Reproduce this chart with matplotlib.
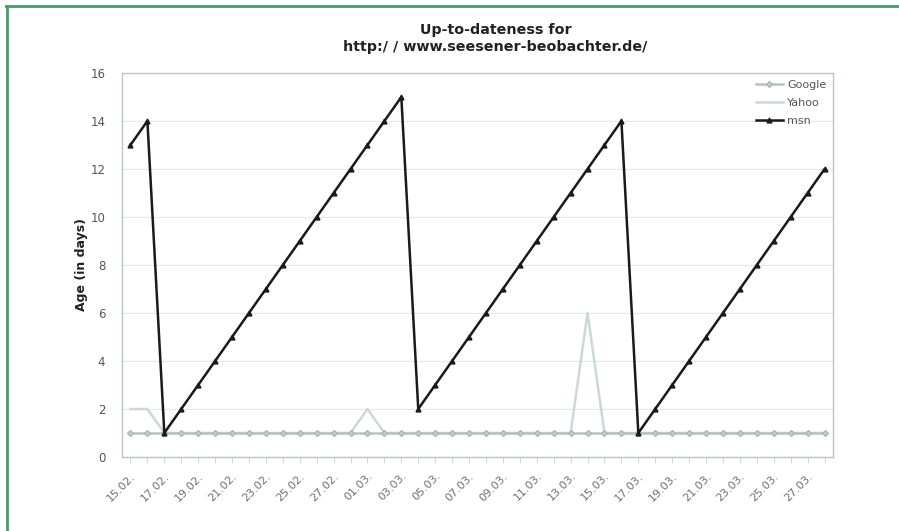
import matplotlib.pyplot as plt
from matplotlib.lines import Line2D

# Jours du 15.02. au 28.03.
days = ["15.02.", "16.02.", "17.02.", "18.02.", "19.02.", "20.02.", "21.02.",
        "22.02.", "23.02.", "24.02.", "25.02.", "26.02.", "27.02.", "28.02.",
        "01.03.", "02.03.", "03.03.", "04.03.", "05.03.", "06.03.", "07.03.",
        "08.03.", "09.03.", "10.03.", "11.03.", "12.03.", "13.03.", "14.03.",
        "15.03.", "16.03.", "17.03.", "18.03.", "19.03.", "20.03.", "21.03.",
        "22.03.", "23.03.", "24.03.", "25.03.", "26.03.", "27.03.", "28.03."]

google = [1] * 42
yahoo = [2, 2, 1, 1, 1, 1, 1, 1, 1, 1, 1, 1, 1, 1,
         2, 1, 1, 1, 1, 1, 1, 1, 1, 1, 1, 1, 1, 6,
         1, 1, 1, 1, 1, 1, 1, 1, 1, 1, 1, 1, 1, 1]
msn = [13, 14, 1, 2, 3, 4, 5, 6, 7, 8, 9, 10, 11, 12,
       13, 14, 15, 2, 3, 4, 5, 6, 7, 8, 9, 10, 11, 12,
       13, 14, 1, 2, 3, 4, 5, 6, 7, 8, 9, 10, 11, 12]

x = list(range(len(days)))

fig = plt.figure(figsize=(8.99, 5.31), dpi=100)
ax = fig.add_axes([0.1357, 0.1394, 0.7909, 0.7231])

ax.plot(x, google, color='#b4c2c2', lw=1.8, marker='D', ms=3,
        mfc='#c4cfcf', mec='#aab8b8', label='Google', zorder=3)
ax.plot(x, yahoo, color='#ccd9d6', lw=1.8, label='Yahoo', zorder=2)
ax.plot(x, msn, color='#1a1a1a', lw=1.8, marker='^', ms=3.5,
        label='msn', zorder=4)

ax.set_xlim(-0.5, len(days) - 0.5)
ax.set_ylim(0, 16)
ax.set_yticks(range(0, 17, 2))
ax.set_xticks(x)
ax.set_xticklabels([d if i % 2 == 0 else "" for i, d in enumerate(days)],
                   rotation=45, ha='right', rotation_mode='anchor',
                   fontsize=8, color='#707070')
ax.tick_params(axis='y', labelsize=8.5, labelcolor='#555555', length=0, pad=12)
ax.tick_params(axis='x', length=4, color='#d0dada', pad=6)
ax.grid(axis='y', color='#e2eaea', lw=0.9)
ax.set_axisbelow(True)
for s in ax.spines.values():
    s.set_color('#b8c8c8')
    s.set_linewidth(1.0)

ax.set_ylabel('Age (in days)', fontsize=9, fontweight='bold', color='#222222',
              labelpad=2)
fig.text(0.551, 0.927, 'Up-to-dateness for\nhttp:/ / www.seesener-beobachter.de/',
         ha='center', va='center', fontsize=10.3, fontweight='bold',
         color='#222222', linespacing=1.3)

leg = ax.legend(loc='upper right', frameon=False, fontsize=8,
                handlelength=2.4, labelspacing=0.75, borderaxespad=0.2,
                handletextpad=0.4)
for t in leg.get_texts():
    t.set_color('#555555')

# cadre vert (haut et gauche)
fig.add_artist(Line2D([0.007, 1.0], [0.988, 0.988], color='#4a9a63', lw=2))
fig.add_artist(Line2D([0.0075, 0.0075], [0.0, 0.988], color='#4a9a63', lw=2))

plt.savefig('out.png', dpi=100)
